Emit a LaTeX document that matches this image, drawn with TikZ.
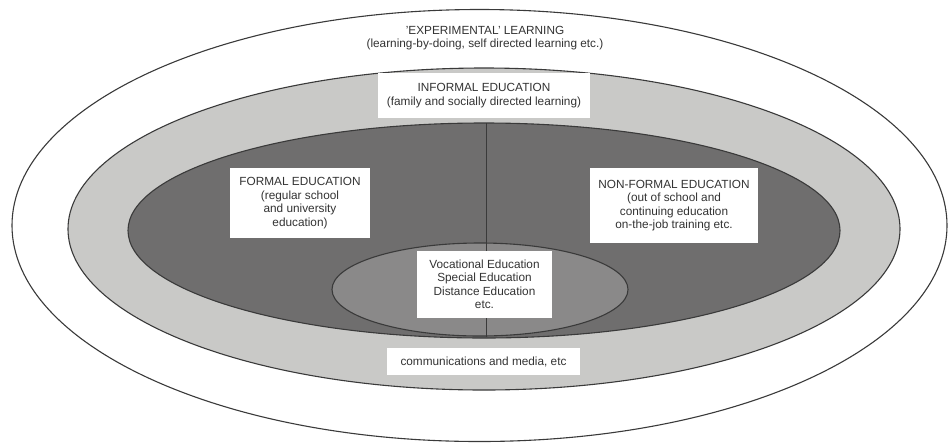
\documentclass[tikz,border=0pt]{standalone}
\usepackage{fontspec}
\setmainfont{Liberation Sans}
\usepackage{tikz}
\usetikzlibrary{positioning}

\definecolor{ringlight}{HTML}{C9C9C7}
\definecolor{ringdark}{HTML}{6F6E6E}
\definecolor{ringmid}{HTML}{8A8989}
\definecolor{edgegray}{HTML}{3A3A3A}
\definecolor{textgray}{HTML}{333333}

\begin{document}
\begin{tikzpicture}[x=1pt,
            y=-1pt,
            ring/.style={draw=edgegray, line width=1.1pt},
            label/.style={fill=white,
                          text=textgray,
                          align=center,
                          inner sep=0pt,
                          font=\fontsize{11.8}{13.5}\selectfont}]

        \useasboundingbox (0,0) rectangle (952,445);

        % the rings, outer to inner
        \draw[ring, fill=white]     (479.5,225.5) ellipse [x radius=467.5, y radius=216];
        \draw[ring, fill=ringlight] (484,229)     ellipse [x radius=416,   y radius=161];
        \draw[ring, fill=ringdark]  (484,230.5)   ellipse [x radius=356,   y radius=107.5];
        \draw[ring, fill=ringmid]   (480,289.5)   ellipse [x radius=148,   y radius=46.5];

        \coordinate (split top) at (486,123);
        \coordinate (split bot) at (486,337);
        \draw[edgegray, line width=0.9pt] (split top) -- (split bot);

        \node[text=textgray, align=center, font=\fontsize{11.8}{13.5}\selectfont]
              (exper) at (485,38) {'EXPERIMENTAL' LEARNING\\(learning-by-doing, self directed learning etc.)};

        \node[label, minimum width=212, minimum height=45]
              (informal) at (484,95.5) {INFORMAL EDUCATION\\(family and socially directed learning)};
        \node[label, minimum width=140, minimum height=70]
              (formal) at (300,203) {FORMAL EDUCATION\\(regular school\\and university\\education)};
        \node[label, minimum width=168, minimum height=75]
              (nonformal) at (674,205.5) {NON-FORMAL EDUCATION\\(out of school and\\continuing education\\on-the-job training etc.};
        \node[label, minimum width=135, minimum height=67]
              (special) at (484.5,284.5) {Vocational Education\\Special Education\\Distance Education\\etc.};
        \node[label, minimum width=193, minimum height=27]
              (media) at (483.5,361.5) {communications and media, etc};

    \end{tikzpicture}
\end{document}
